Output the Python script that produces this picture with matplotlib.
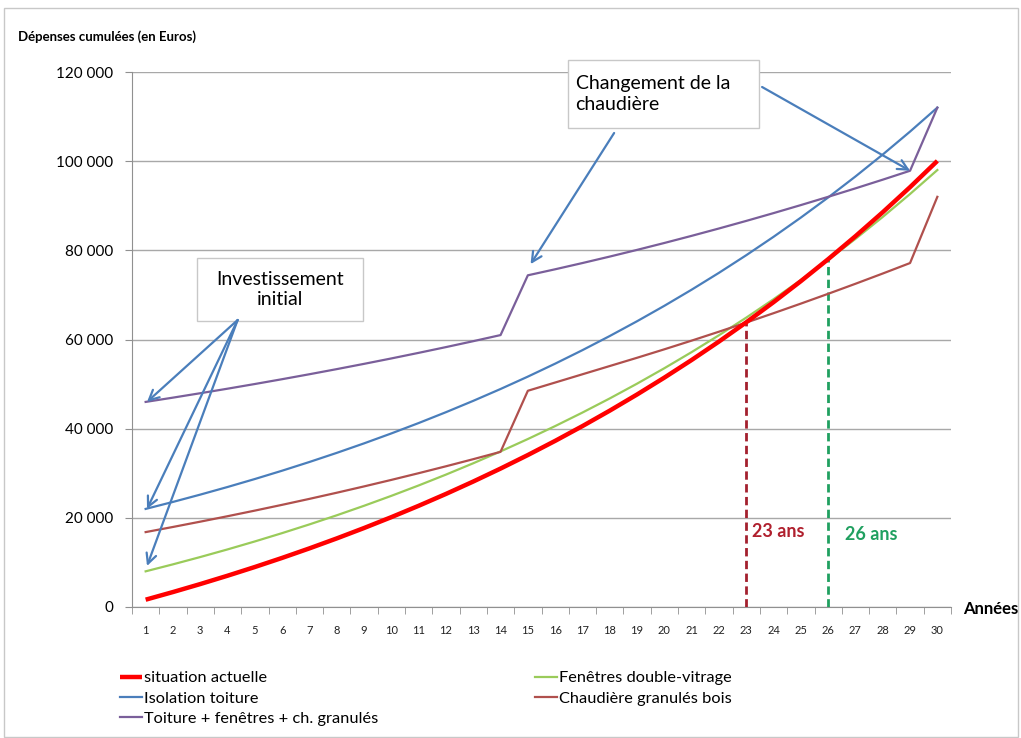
import matplotlib
matplotlib.use("Agg")
import matplotlib.pyplot as plt
from matplotlib.patches import Rectangle

plt.rcParams['font.family'] = ['Lato', 'DejaVu Sans']

# cumulative spending (EUR) per year, 5 scenarios
annees = list(range(1, 31))
situation_actuelle = [1640, 3354, 5145, 7016, 8972, 11016, 13151, 15383, 17715, 20153,
                      22700, 25361, 28142, 31049, 34086, 37260, 40576, 44042, 47664, 51449,
                      55404, 59538, 63857, 68370, 73087, 78016, 83167, 88549, 94174, 100052]
fenetres = [8000, 9568, 11206, 12917, 14706, 16575, 18529, 20570, 22703, 24932,
            27262, 29696, 32240, 34898, 37676, 40579, 43613, 46783, 50095, 53557,
            57175, 60955, 64906, 69034, 73348, 77856, 82567, 87490, 92635, 98011]
isolation = [22000, 23568, 25206, 26917, 28706, 30575, 32529, 34570, 36703, 38932,
             41262, 43696, 46240, 48898, 51676, 54579, 57613, 60783, 64095, 67557,
             71175, 74955, 78906, 83034, 87348, 91856, 96567, 101490, 106635, 112011]
chaudiere = [16800, 17953, 19140, 20362, 21622, 22919, 24255, 25631, 27049, 28509,
             30013, 31562, 33157, 34801, 48500, 50350, 52200, 54050, 55900, 57800,
             59750, 61750, 63800, 65900, 68050, 70250, 72500, 74800, 77150, 92000]
combine = [46000, 46960, 47949, 48967, 50016, 51097, 52209, 53356, 54536, 55752,
           57005, 58295, 59624, 60992, 74400, 75750, 77150, 78600, 80100, 81650,
           83250, 84900, 86600, 88350, 90150, 92000, 93900, 95850, 97850, 112000]

# years to break even vs. current situation
retour_chaudiere = 23
retour_fenetres = 26

fig = plt.figure(figsize=(10.21, 7.38), dpi=100)
ax = fig.add_axes([132/1021, 1-607/738, (951-132)/1021, (607-72)/738])

# outer frame of the chart
fig.patches.append(Rectangle((4/1021, 1/738), 1014/1021, 729/738, transform=fig.transFigure,
                             fill=False, edgecolor='#c8c8c8', lw=1))

l_red, = ax.plot(annees, situation_actuelle, color='#ff0000', lw=3.2, solid_capstyle='butt', zorder=6)
l_green, = ax.plot(annees, fenetres, color='#9acb5a', lw=1.6, zorder=5)
l_blue, = ax.plot(annees, isolation, color='#4a7ebb', lw=1.6, zorder=5)
l_brown, = ax.plot(annees, chaudiere, color='#b0504d', lw=1.6, zorder=5)
l_purple, = ax.plot(annees, combine, color='#7a5f9a', lw=1.6, zorder=5)

# break-even markers
ax.plot([retour_chaudiere, retour_chaudiere], [0, situation_actuelle[retour_chaudiere-1]],
        color='#a3202e', lw=2, ls=(0, (3, 1.6)), zorder=4)
ax.plot([retour_fenetres, retour_fenetres], [0, situation_actuelle[retour_fenetres-1]],
        color='#20a060', lw=2, ls=(0, (3, 1.6)), zorder=4)
ax.text(retour_chaudiere + 0.2, 17000, f"{retour_chaudiere} ans", color='#b0202e',
        fontsize=13, fontweight='bold', va='center', ha='left')
ax.text(retour_fenetres + 0.6, 16150, f"{retour_fenetres} ans", color='#20a060',
        fontsize=13, fontweight='bold', va='center', ha='left')

# axes
ax.set_xlim(0.5, 30.5)
ax.set_ylim(0, 120000)
ax.set_yticks(range(0, 120001, 20000))
ax.set_yticklabels([f"{v:,}".replace(",", " ") for v in range(0, 120001, 20000)], fontsize=11)
ax.set_xticks(annees)
ax.set_xticklabels([str(a) for a in annees], fontsize=8, color='#222222')
ax.set_xticks([a + 0.5 for a in range(0, 31)], minor=True)
ax.tick_params(axis='x', which='major', length=0, pad=13)
ax.tick_params(axis='x', which='minor', length=5, color='#909090')
ax.tick_params(axis='y', length=5, color='#909090', pad=8.5)
ax.grid(axis='y', color='#a8a8a8', lw=1)
ax.set_axisbelow(True)
for s in ['top', 'right']:
    ax.spines[s].set_visible(False)
for s in ['left', 'bottom']:
    ax.spines[s].set_color('#909090')

fig.text(18/1021, 1-37/738, "Dépenses cumulées (en Euros)", fontsize=9.5, fontweight='bold', va='center')
fig.text(963/1021, 1-609/738, "Années", fontsize=12, fontweight='bold', va='center')

# callout boxes
arrow_kw = dict(arrowstyle='->', color='#4a7ebb', lw=1.6, mutation_scale=18, shrinkA=0, shrinkB=0)
ax.add_patch(Rectangle((2.87, 64150), 6.08, 14130, facecolor='white', edgecolor='#c8c8c8',
                       lw=1, zorder=7))
ax.text(5.91, 71200, "Investissement\ninitial", ha='center', va='center', fontsize=14,
        linespacing=1.25, zorder=8)
for serie, dy in [(combine, 0), (isolation, 0), (fenetres, 1200)]:
    ax.annotate("", xy=(1.05, serie[0] + dy), xytext=(4.37, 64374),
                arrowprops=arrow_kw, zorder=8)

ax.add_patch(Rectangle((16.47, 107440), 7.0, 15260, facecolor='white', edgecolor='#c8c8c8',
                       lw=1, zorder=7, clip_on=False))
ax.text(16.75, 115100, "Changement de la\nchaudière", ha='left', va='center', fontsize=14,
        linespacing=1.25, zorder=8)
ax.annotate("", xy=(15.1, combine[14] + 2500), xytext=(18.16, 106318),
            arrowprops=arrow_kw, zorder=8, annotation_clip=False)
ax.annotate("", xy=(29.0, combine[28]), xytext=(23.58, 116636),
            arrowprops=arrow_kw, zorder=8, annotation_clip=False)

leg = ax.legend([l_red, l_blue, l_purple, l_green, l_brown],
                ["situation actuelle", "Isolation toiture", "Toiture + fenêtres + ch. granulés",
                 "Fenêtres double-vitrage", "Chaudière granulés bois"],
                ncol=2, loc='upper left', bbox_to_anchor=(120/1021, 1-671/738),
                bbox_transform=fig.transFigure, frameon=False, fontsize=11.8,
                handlelength=1.35, handletextpad=0.1, labelspacing=0.34,
                columnspacing=9.6, borderpad=0, borderaxespad=0)

fig.savefig("out.png", dpi=100, facecolor='white')
